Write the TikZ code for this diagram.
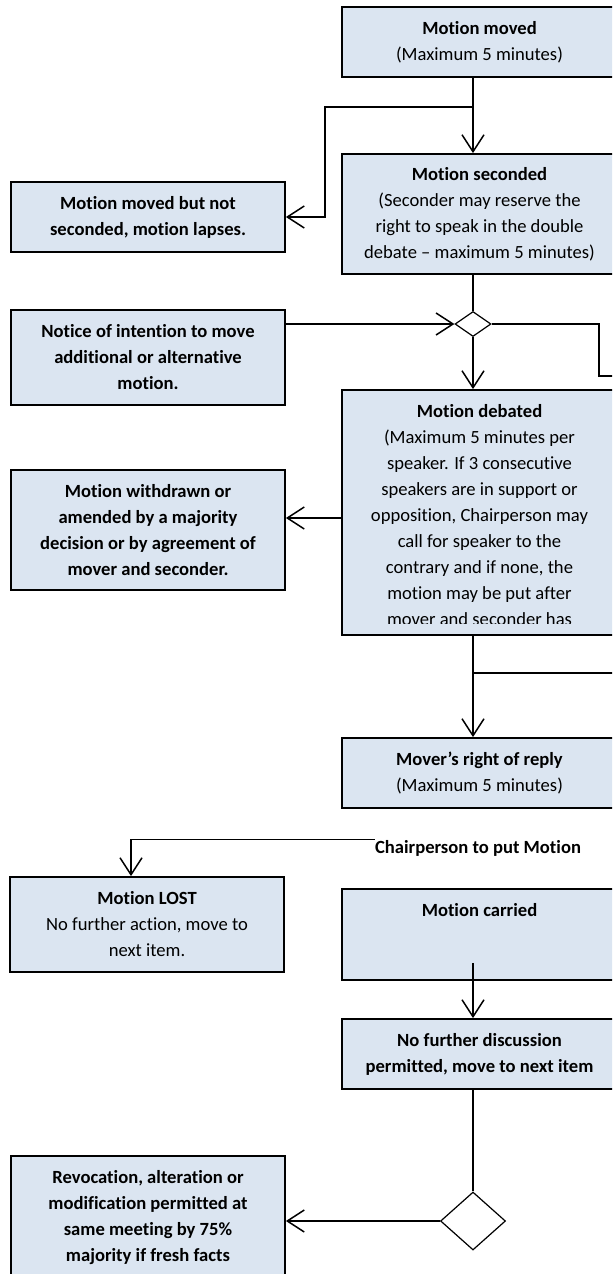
\documentclass[tikz,border=0pt]{standalone}
\usepackage{fontspec}
\setmainfont{Carlito}[Ligatures=NoCommon]
\usetikzlibrary{arrows.meta,shapes.geometric,calc}
\definecolor{boxfill}{HTML}{DBE5F1}

\begin{document}
\begin{tikzpicture}[x=0.5pt, y=-0.5pt,
  every node/.style = {font=\fontsize{9.3}{13}\selectfont},
  box/.style = {rectangle, draw, fill=boxfill, line width=0.9pt, inner sep=0pt, align=center},
  rbox/.style = {box, minimum width=137.5pt},
  lbox/.style = {box, minimum width=137pt},
  decision/.style = {diamond, draw, fill=white, line width=0.6pt, inner sep=0pt},
  txt/.style = {inner sep=0pt, align=center},
  link/.style = {line width=0.75pt},
  arr/.style = {link, -{Straight Barb[length=8.5pt, width=11pt]}},
  ]
  \useasboundingbox (0,0) rectangle (612,1274);
  \clip (0,0) rectangle (612,1274);

  % right column
  \node[rbox, minimum height=35pt] (moved) at (479.5,42)
    {\textbf{Motion moved}\\(Maximum 5 minutes)};
  \node[rbox, minimum height=60pt] (seconded) at (479.5,214)
    {\textbf{Motion seconded}\\(Seconder may reserve the\\right to speak in the double\\debate – maximum 5 minutes)};
  \node[decision, minimum width=18pt, minimum height=12.5pt] (d1) at (473,324) {};
  \node[rbox, minimum height=122.5pt] (debated) at (479.5,512.5) {};
  \begin{scope}
    \clip (debated.north west) rectangle ([yshift=6pt]debated.south east);
    \node[txt, anchor=north] at ([yshift=-7.5pt]debated.north)
      {\textbf{Motion debated}\\(Maximum 5 minutes per\\speaker. If 3 consecutive\\speakers are in support or\\opposition, Chairperson may\\call for speaker to the\\contrary and if none, the\\motion may be put after\\mover and seconder has};
  \end{scope}
  \node[rbox, minimum height=35pt] (mover) at (479.5,773)
    {\textbf{Mover’s right of reply}\\(Maximum 5 minutes)};
  \node[txt] (chair) at (478,848) {\textbf{Chairperson to put Motion}};
  \node[rbox, minimum height=45.5pt] (carried) at (479.5,934.5) {};
  \node[txt, anchor=north] at ([yshift=-7.5pt]carried.north) {\textbf{Motion carried}};
  \node[rbox, minimum height=35pt] (nofurther) at (479.5,1054)
    {\textbf{No further discussion}\\\textbf{permitted, move to next item}};
  \node[decision, minimum width=32.5pt, minimum height=29pt] (d2) at (473,1221) {};

  % left column
  \node[lbox, minimum height=35pt] (notsec) at (148,217)
    {\textbf{Motion moved but not}\\\textbf{seconded, motion lapses.}};
  \node[lbox, minimum height=47.5pt] (notice) at (148,357.5)
    {\textbf{Notice of intention to move}\\\textbf{additional or alternative}\\\textbf{motion.}};
  \node[lbox, minimum height=60pt] (withdrawn) at (148,530)
    {\textbf{Motion withdrawn or}\\\textbf{amended by a majority}\\\textbf{decision or by agreement of}\\\textbf{mover and seconder.}};
  \node[lbox, minimum height=47.5pt] (lost) at (147,924.5)
    {\textbf{Motion LOST}\\No further action, move to\\next item.};
  \node[lbox, minimum height=72pt] (revoc) at (148,1228) {};
  \node[txt, anchor=north] at ([yshift=-7.5pt]revoc.north)
    {\textbf{Revocation, alteration or}\\\textbf{modification permitted at}\\\textbf{same meeting by 75\%}\\\textbf{majority if fresh facts}};

  % connectors
  \coordinate (split1) at (473,107);
  \coordinate (split2) at (473,673);
  \coordinate (r1) at (599,376);
  \draw[arr] (moved.south -| d1) -- (seconded.north -| d1);
  \draw[arr] (split1) -- ++(-148,0) |- (notsec.east);
  \draw[link] (seconded.south -| d1) -- (d1.north);
  \draw[arr] (notice.east |- d1.west) -- (d1.west);
  \draw[link] (d1.east) -| (r1) -- ++(30,0);
  \draw[arr] (d1.south) -- (debated.north -| d1);
  \draw[arr] ([yshift=6pt]debated.west |- withdrawn.east) -- ([yshift=6pt]withdrawn.east);
  \draw[arr] (debated.south -| d1) -- (mover.north -| d1);
  \draw[link] (split2) -- ++(160,0);
  \draw[arr] (chair.north west) -| ([xshift=-8pt]lost.north);
  \draw[arr] ([yshift=9pt]carried.south -| d2.north) -- (nofurther.north -| d2.north);
  \draw[link] (nofurther.south -| d2) -- (d2.north);
  \draw[arr] (d2.west) -- (revoc.east |- d2.west);
\end{tikzpicture}
\end{document}
